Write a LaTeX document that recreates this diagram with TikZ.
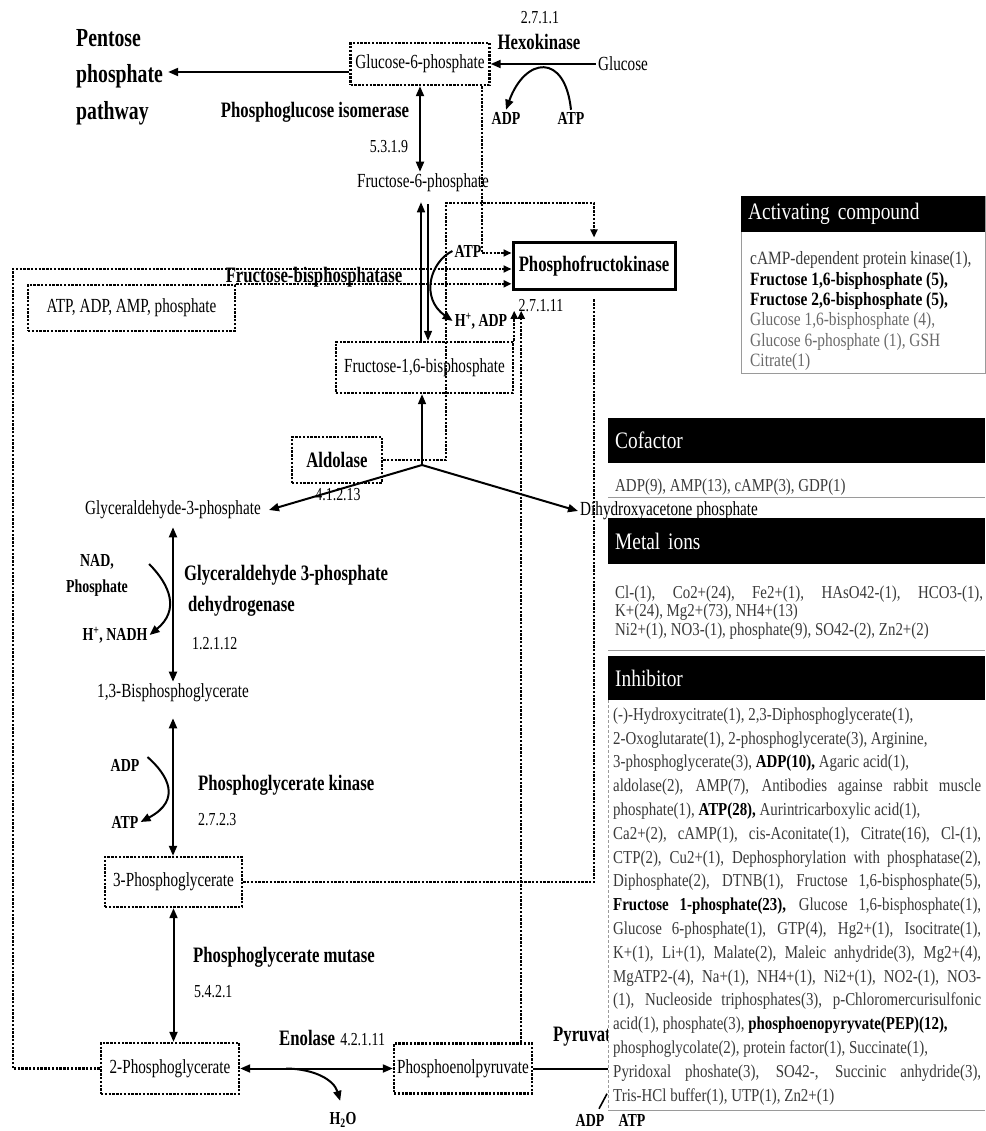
\documentclass[tikz,border=0pt]{standalone}
\usepackage{fontspec}
\setmainfont{Liberation Serif}
\newfontfamily\diagfont[FakeStretch=0.76]{Liberation Serif}
\newfontfamily\panelfont[FakeStretch=0.82]{Liberation Serif}
\usepackage{tikz}
\usetikzlibrary{calc}
\usetikzlibrary{math}
\usetikzlibrary{arrows.meta}
\definecolor{PanelDark}{HTML}{3A3A3A}
\definecolor{PanelLight}{HTML}{6A6A6A}
\definecolor{PanelRule}{HTML}{9A9A9A}

\begin{document}
\begin{tikzpicture}[x=1pt, y=-1pt, >={Triangle[length=10pt, width=8pt]}]
    \tikzmath {
        \colU = 422;
        \panL = 608;
        \panR = 985;
        \inhW = 368;
    }

    \tikzstyle{met}=[font=\diagfont\fontsize{20}{22}\selectfont, inner sep=2pt]
    \tikzstyle{cof}=[font=\diagfont\bfseries\fontsize{18.3}{26}\selectfont, inner sep=2pt]
    \tikzstyle{enz}=[font=\diagfont\bfseries\fontsize{22}{31}\selectfont, inner sep=2pt]
    \tikzstyle{ec}=[font=\diagfont\fontsize{18.3}{20}\selectfont, inner sep=2pt]
    \tikzstyle{dbox}=[met, draw, line width=2.4pt, dash pattern=on 2.4pt off 1.4pt]
    \tikzstyle{dline}=[line width=2.4pt, dash pattern=on 2.4pt off 1.4pt, >={Triangle[length=8pt, width=7pt]}]
    \tikzstyle{arr}=[line width=2pt]
    \tikzstyle{pbar}=[fill=black, text=white, anchor=north west, inner xsep=7pt, align=left, font=\panelfont\fontsize{23.6}{25}\selectfont]
    \tikzstyle{ptxt}=[font=\panelfont\fontsize{18.2}{23.8}\selectfont, text=PanelDark, align=left, anchor=north west, inner sep=0pt]

    \useasboundingbox (0,0) rectangle (\panR,1131);

    % upper part
    \coordinate (g6p_c) at (420, 64);
    \node[dbox, minimum width=139pt, minimum height=42pt] (g6p) at (g6p_c) {Glucose-6-phosphate};
    \node[met] (glc) at ($(g6p_c) + (203, 0)$) {Glucose};
    \node[enz] (hk) at (539, 42) {Hexokinase};
    \node[ec] (hk_ec) at (540, 18) {2.7.1.1};
    \node[cof] (hk_adp) at (506, 118) {ADP};
    \node[cof] (hk_atp) at (571, 118) {ATP};
    \node[font=\diagfont\bfseries\fontsize{26}{36.5}\selectfont, align=left, anchor=west, inner sep=5pt] (ppp) at (71, 77) {Pentose\\phosphate\\pathway};
    \node[enz] (pgi) at (315, 112) {Phosphoglucose isomerase};
    \node[ec] (pgi_ec) at (389, 147) {5.3.1.9};
    \node[met] (f6p) at (423, 183) {Fructose-6-phosphate};

    \coordinate (pfk_c) at (594, 266.5);
    \node[enz, draw, line width=3pt, minimum width=162pt, minimum height=47pt] (pfk) at (pfk_c) {Phosphofructokinase};
    \node[cof] (pfk_atp) at (468, 251) {ATP};
    \node[cof] (pfk_adp) at (481, 321) {H\textsuperscript{+}, ADP};
    \node[ec] (pfk_ec) at (541, 306) {2.7.1.11};
    \node[enz] (fbpase) at (314, 277) {Fructose-bisphosphatase};
    \node[dbox, minimum width=207pt, minimum height=46pt] (effectors) at (131.5, 308) {ATP, ADP, AMP, phosphate};
    \node[dbox, minimum width=177pt, minimum height=51pt] (f16bp) at (424.5, 367.5) {Fructose-1,6-bisphosphate};
    \node[dbox, enz, minimum width=90pt, minimum height=46pt] (ald) at (337, 460) {Aldolase};
    \node[ec] (ald_ec) at (338, 495) {4.1.2.13};
    \node[met, inner xsep=8pt] (g3p) at (173, 510) {Glyceraldehyde-3-phosphate};
    \node[met, anchor=west] (dhap) at (578, 511) {Dihydroxyacetone phosphate};

    % lower part
    \node[cof, align=center] (gapdh_in) at (97, 575) {NAD,\\Phosphate};
    \node[cof] (gapdh_out) at (115, 635) {H\textsuperscript{+}, NADH};
    \node[enz, anchor=west, align=left] (gapdh) at (182, 590.5) {Glyceraldehyde 3-phosphate\\\hspace*{4pt}dehydrogenase};
    \node[ec, anchor=west] (gapdh_ec) at (190, 644) {1.2.1.12};
    \node[met] (bpg) at (173, 693) {1,3-Bisphosphoglycerate};
    \node[cof] (pgk_in) at (125, 765) {ADP};
    \node[cof] (pgk_out) at (125, 822) {ATP};
    \node[enz, anchor=west] (pgk) at (196, 785) {Phosphoglycerate kinase};
    \node[ec, anchor=west] (pgk_ec) at (196, 820) {2.7.2.3};
    \node[dbox, minimum width=137pt, minimum height=50pt] (pg3) at (173.5, 882) {3-Phosphoglycerate};
    \node[enz, anchor=west] (pgm) at (191, 957) {Phosphoglycerate mutase};
    \node[ec, anchor=west] (pgm_ec) at (192, 992) {5.4.2.1};
    \node[dbox, minimum width=138pt, minimum height=51pt] (pg2) at (170, 1068.5) {2-Phosphoglycerate};
    \node[enz, anchor=west] (eno) at (277, 1038) {Enolase};
    \node[ec, anchor=base west] (eno_ec) at ($(eno.base east) + (1, 0)$) {4.2.1.11};
    \node[dbox, minimum width=138pt, minimum height=50pt] (pep) at (463, 1068.5) {Phosphoenolpyruvate};
    \node[cof] (eno_h2o) at (343, 1120) {H\textsubscript{2}O};
    \node[enz, anchor=west] (pk) at (551, 1037) {Pyruvat};
    \node[cof] (pk_adp) at (590, 1120) {ADP};
    \node[cof] (pk_atp) at (632, 1120) {ATP};

    % main pathway
    \coordinate (ppp_in) at ($(ppp.east) + (0, -5)$);
    \draw[arr, ->] (g6p.west |- ppp_in) -- (ppp_in);
    \draw[arr, ->] (glc) -- (g6p);
    \draw[arr, ->] (hk_atp.north) .. controls (565, 52) and (525, 57) .. (hk_adp.north);
    \draw[arr, <->] (g6p.south) -- (g6p.south |- f6p.north);

    \coordinate (fbp_top) at ($(f6p.south) + (-2, 8)$);
    \coordinate (pfk_top) at ($(f6p.south) + (5, 10)$);
    \draw[line width=1.6pt, ->] (f16bp.north -| fbp_top) -- (fbp_top);
    \draw[line width=1.6pt, ->] (pfk_top) -- (f16bp.north -| pfk_top);
    \draw[arr, ->] (pfk_atp.west) .. controls (430, 262) and (420, 298) .. (pfk_adp.west);

    \coordinate (ald_j) at (\colU, 465);
    \draw[line width=1.6pt, ->] (ald_j) -- (ald_j |- f16bp.south);
    \draw[arr, ->] (ald_j) -- (g3p.east);
    \draw[arr, ->] (ald_j) -- (dhap.west);

    \draw[arr, <->, shorten <=6pt] (g3p) -- (bpg);
    \coordinate (gapdh_c1) at ($(gapdh_in.east) + (19, -11)$);
    \draw[arr, ->] (gapdh_c1) .. controls (170, 585) and (180, 610) .. (gapdh_out.east);
    \draw[arr, <->, shorten <=14pt] (bpg) -- (bpg |- pg3.north);
    \coordinate (pgk_c1) at ($(pgk_in.east) + (6, -8)$);
    \draw[arr, ->] (pgk_c1) .. controls (168, 775) and (182, 800) .. (pgk_out.east);
    \draw[arr, <->] (pg3.south) -- (pg3.south |- pg2.north);
    \draw[arr, <->] (pg2) -- (pep);
    \coordinate (eno_c1) at ($(pg2.east) + (46, 0)$);
    \draw[arr, ->, shorten >=10pt] (eno_c1) .. controls (315, 1069) and (334, 1080) .. (eno_h2o.north);
    \coordinate (pk_end) at ($(pep.east) + (77, 0)$);
    \draw[arr] (pep.east) -- (pk_end);
    \coordinate (pk_c1) at ($(pk_adp.north) + (9, -3)$);
    \coordinate (pk_c2) at ($(pk_c1) + (8, -15)$);
    \draw[line width=1.6pt] (pk_c1) -- (pk_c2);

    % regulation of phosphofructokinase
    \coordinate (pfk_in1) at ($(pfk.west) + (0, -13.5)$);
    \coordinate (pfk_in2) at ($(pfk.west) + (0, 2.5)$);
    \coordinate (g6p_out) at ($(g6p.south east) + (-9, 0)$);
    \coordinate (ald_up) at (446, 203);
    \path let \p1=(pfk_in2) in coordinate (lr_corner) at (13pt, \y1);
    \draw[dline, ->] (g6p_out) |- (pfk_in1);
    \draw[dline, ->, shorten >=4pt] (ald.east) -| (ald_up) -| (pfk.north);
    \draw[dline, ->] (pg2.west) -| (lr_corner) -- (pfk_in2);
    \draw[dline, ->] (effectors.north east) -- (effectors.north east -| pfk.west);
    \coordinate (f16bp_act) at ($(f16bp.north east) + (0, -30)$);
    \draw[dline, ->] (f16bp.north east) -- (f16bp_act);
    \coordinate (pep_out) at ($(pep.north east) + (-12, 0)$);
    \draw[dline, ->] (pep_out) -- (pep_out |- f16bp_act);
    \draw[dline, shorten >=7pt] (pg3.east) -| (pfk.south);

    % activating compound
    \node[draw=PanelRule, line width=0.8pt, fill=white, minimum width=244pt, minimum height=177pt, anchor=north west, inner sep=0pt] (act_box) at (741, 196) {};
    \node[pbar, text width=230pt, minimum height=36pt] (act_bar) at (act_box.north west) {Activating compound};
    \node[ptxt, font=\panelfont\fontsize{18.8}{20.4}\selectfont] (act_txt) at ($(act_bar.south west) + (9, 19)$) {cAMP-dependent protein kinase(1),\\
        {\color{black}\bfseries Fructose 1,6-bisphosphate (5),}\\
        {\color{black}\bfseries Fructose 2,6-bisphosphate (5),}\\
        {\color{PanelLight}Glucose 1,6-bisphosphate (4),}\\
        {\color{PanelLight}Glucose 6-phosphate (1), GSH}\\
        {\color{PanelLight}Citrate(1)}};

    % cofactor
    \node[pbar, text width=363pt, minimum height=45pt] (cof_bar) at (\panL, 418) {Cofactor};
    \node[ptxt] (cof_txt) at ($(cof_bar.south west) + (7, 15)$) {ADP(9), AMP(13), cAMP(3), GDP(1)};
    \draw[PanelRule, line width=0.8pt] (\panL, 497) -- (\panR, 497);

    % metal ions
    \node[pbar, text width=363pt, minimum height=46pt] (ion_bar) at (\panL, 518) {Metal ions};
    \node[ptxt, font=\panelfont\fontsize{18.2}{18.5}\selectfont] (ion_txt) at ($(ion_bar.south west) + (7, 21)$) {\makebox[\inhW pt][s]{Cl-(1), Co2+(24), Fe2+(1), HAsO42-(1), HCO3-(1),}\\
        K+(24), Mg2+(73), NH4+(13)\\
        Ni2+(1), NO3-(1), phosphate(9), SO42-(2), Zn2+(2)};
    \draw[PanelRule, line width=0.8pt] (\panL, 650) -- (\panR, 650);

    % inhibitor
    \node[pbar, text width=363pt, minimum height=44pt] (inh_bar) at (\panL, 656) {Inhibitor};
    \fill[white] (inh_bar.south west) rectangle (\panR, 1110);
    \draw[PanelRule, line width=0.8pt, dash pattern=on 3pt off 2pt] (inh_bar.south west) -- (\panL, 1110);
    \draw[PanelRule, line width=0.8pt] (\panL, 1110) -- (\panR, 1110);
    \node[ptxt] (inh_txt) at ($(inh_bar.south west) + (5, 7)$) {(-)-Hydroxycitrate(1), 2,3-Diphosphoglycerate(1),\\
        2-Oxoglutarate(1), 2-phosphoglycerate(3), Arginine,\\
        3-phosphoglycerate(3), {\color{black}\bfseries ADP(10),} Agaric acid(1),\\
        \makebox[\inhW pt][s]{aldolase(2), AMP(7), Antibodies againse rabbit muscle}\\
        phosphate(1), {\color{black}\bfseries ATP(28),} Aurintricarboxylic acid(1),\\
        \makebox[\inhW pt][s]{Ca2+(2), cAMP(1), cis-Aconitate(1), Citrate(16), Cl-(1),}\\
        \makebox[\inhW pt][s]{CTP(2), Cu2+(1), Dephosphorylation with phosphatase(2),}\\
        \makebox[\inhW pt][s]{Diphosphate(2), DTNB(1), Fructose 1,6-bisphosphate(5),}\\
        \makebox[\inhW pt][s]{{\color{black}\bfseries Fructose 1-phosphate(23),} Glucose 1,6-bisphosphate(1),}\\
        \makebox[\inhW pt][s]{Glucose 6-phosphate(1), GTP(4), Hg2+(1), Isocitrate(1),}\\
        \makebox[\inhW pt][s]{K+(1), Li+(1), Malate(2), Maleic anhydride(3), Mg2+(4),}\\
        \makebox[\inhW pt][s]{MgATP2-(4), Na+(1), NH4+(1), Ni2+(1), NO2-(1), NO3-}\\
        \makebox[\inhW pt][s]{(1), Nucleoside triphosphates(3), p-Chloromercurisulfonic}\\
        acid(1), phosphate(3), {\color{black}\bfseries phosphoenopyryvate(PEP)(12),}\\
        phosphoglycolate(2), protein factor(1), Succinate(1),\\
        \makebox[\inhW pt][s]{Pyridoxal phoshate(3), SO42-, Succinic anhydride(3),}\\
        Tris-HCl buffer(1), UTP(1), Zn2+(1)};
\end{tikzpicture}
\end{document}
